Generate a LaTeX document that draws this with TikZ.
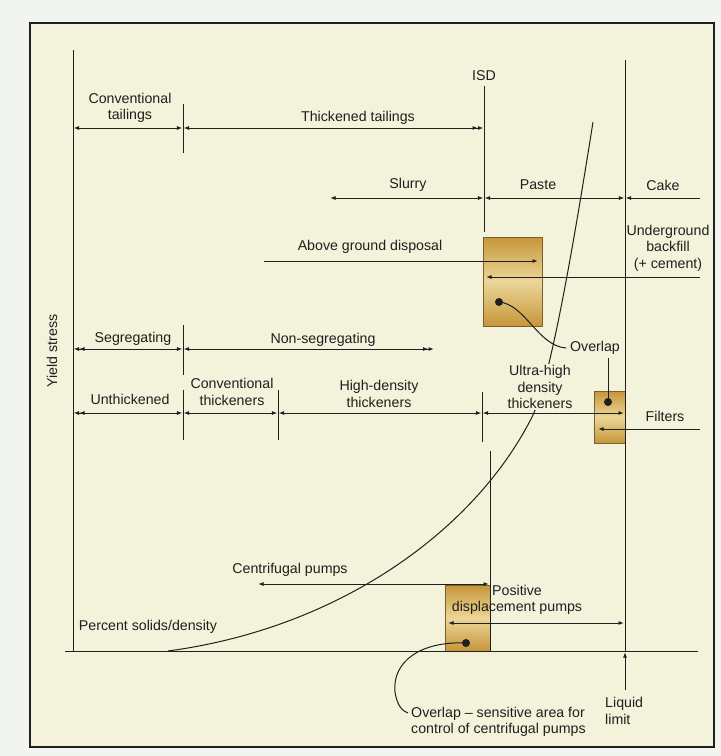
\documentclass[tikz,border=0pt]{standalone}
\usepackage{fontspec}
\setmainfont{Liberation Sans}
\usetikzlibrary{arrows.meta}
\definecolor{page}{HTML}{F2F4F0}
\definecolor{paper}{HTML}{F3F2DA}
\definecolor{ink}{HTML}{1F1F1F}
\definecolor{goldD}{HTML}{C6963A}
\definecolor{goldL}{HTML}{ECD698}
\definecolor{goldE}{HTML}{7A5F28}

\begin{document}
\begin{tikzpicture}[x=1pt,y=-1pt,
  >={Latex[length=5.5pt,width=4pt]},
  ln/.style={draw=ink,line width=1pt},
  lbl/.style={font=\fontsize{14.2}{16.5}\selectfont,text=ink,inner sep=0pt,align=center},
  lblL/.style={lbl,align=left},
  goldbox/.style={draw=goldE,line width=0.6pt,top color=goldD,bottom color=goldD,middle color=goldL},
  dot/.style={circle,fill=ink,inner sep=0pt,minimum size=8pt},
]
% page and framed panel
\useasboundingbox (0,0) rectangle (721,756);
\fill[page] (0,0) rectangle (721,756);
\draw[line width=2pt,draw=ink,fill=paper] (30,23) rectangle (714,747);

% overlap zones
\shade[goldbox] (483,237) rectangle (542,326);
\shade[goldbox] (594,391) rectangle (625,443);
\shade[goldbox] (445,585) rectangle (490,651);

% axes
\coordinate (yTop) at (73,50);
\coordinate (origin) at (73,651);
\coordinate (xL) at (65,651);
\coordinate (xR) at (698,651);
\draw[ln] (yTop) -- (origin);
\draw[ln] (xL) -- (xR);

% boundary lines
\coordinate (llTop) at (625,60);
\coordinate (llBot) at (625,651);
\draw[ln] (llTop) -- (llBot);
\coordinate (isdTop) at (484,86);
\coordinate (isdBot) at (484,232);
\draw[ln] (isdTop) -- (isdBot);
\coordinate (pdTop) at (490,451);
\coordinate (pdBot) at (490,651);
\draw[ln] (pdTop) -- (pdBot);
\coordinate (d1a) at (183,104); \coordinate (d1b) at (183,153);
\coordinate (d2a) at (183,325); \coordinate (d2b) at (183,375);
\coordinate (d3a) at (183,390); \coordinate (d3b) at (183,440);
\coordinate (d4a) at (278,390); \coordinate (d4b) at (278,440);
\coordinate (d5a) at (482,392); \coordinate (d5b) at (482,442);
\draw[ln] (d1a) -- (d1b);
\draw[ln] (d2a) -- (d2b);
\draw[ln] (d3a) -- (d3b);
\draw[ln] (d4a) -- (d4b);
\draw[ln] (d5a) -- (d5b);

% yield stress curve
\coordinate (cStart) at (168,651);
\coordinate (cMid) at (532,417);
\coordinate (cEnd) at (593,122);
\draw[ln] (cStart) .. controls (340,628) and (475,530) .. (cMid)
          .. controls (548,385) and (568,280) .. (cEnd);

% tailings classes
\coordinate (r1a) at (73.5,128); \coordinate (r1b) at (182.4,128);
\coordinate (r1c) at (183.6,128); \coordinate (r1d) at (483.5,128);
\draw[ln,<->] (r1a) -- (r1b);
\draw[ln,<->>] (r1c) -- (r1d);

% slurry / paste / cake
\coordinate (r2a) at (330,198); \coordinate (r2b) at (483.4,198);
\coordinate (r2c) at (484.6,198); \coordinate (r2d) at (624.4,198);
\coordinate (r2e) at (625.6,198); \coordinate (r2f) at (700,198);
\draw[ln,<->] (r2a) -- (r2b);
\draw[ln,<->] (r2c) -- (r2d);
\draw[ln,<-] (r2e) -- (r2f);

% disposal
\coordinate (r3a) at (264,261); \coordinate (r3b) at (538,261);
\coordinate (r3c) at (700,277); \coordinate (r3d) at (486,277);
\draw[ln,->] (r3a) -- (r3b);
\draw[ln,->] (r3c) -- (r3d);

% segregation
\coordinate (r4a) at (73.5,349); \coordinate (r4b) at (182.4,349);
\coordinate (r4c) at (183.6,349); \coordinate (r4d) at (434,349);
\draw[ln,<<->] (r4a) -- (r4b);
\draw[ln,<->>] (r4c) -- (r4d);

% thickeners
\coordinate (r5a) at (73.5,413); \coordinate (r5b) at (182.4,413);
\coordinate (r5c) at (183.6,413); \coordinate (r5d) at (277.4,413);
\coordinate (r5e) at (278.6,413); \coordinate (r5f) at (481.4,413);
\coordinate (r5g) at (482.6,413); \coordinate (r5h) at (624,413);
\draw[ln,<<->] (r5a) -- (r5b);
\draw[ln,<->] (r5c) -- (r5d);
\draw[ln,<->] (r5e) -- (r5f);
\draw[ln,<->] (r5g) -- (r5h);
\coordinate (r5i) at (700,429); \coordinate (r5j) at (598,429);
\draw[ln,->] (r5i) -- (r5j);

% pumps
\coordinate (r6a) at (258,584); \coordinate (r6b) at (489,584);
\coordinate (r6c) at (448,623); \coordinate (r6d) at (624,623);
\draw[ln,<->] (r6a) -- (r6b);
\draw[ln,<->] (r6c) -- (r6d);

% liquid limit pointer
\coordinate (llArrow) at (625,690);
\coordinate (llHit) at (625,652);
\draw[ln,->] (llArrow) -- (llHit);

% labels
\node[lbl] (convTail) at (130,108) {Conventional\\tailings};
\node[lbl] (thickTail) at (358,118) {Thickened tailings};
\node[lbl] (isd) at (484,76) {ISD};
\node[lbl] (slurry) at (408,185) {Slurry};
\node[lbl] (paste) at (538,185) {Paste};
\node[lbl] (cake) at (663,185) {Cake};
\node[lbl] (above) at (370,247) {Above ground disposal};
\node[lbl] (under) at (668,248) {Underground\\backfill\\(+ cement)};
\node[lbl] (overlap1) at (595,348) {Overlap};
\node[lbl] (segreg) at (133,339) {Segregating};
\node[lbl] (nonseg) at (323,340) {Non-segregating};
\node[lbl] (unthick) at (130,399) {Unthickened};
\node[lbl] (convThick) at (232,392) {Conventional\\thickeners};
\node[lbl] (hdThick) at (379,394) {High-density\\thickeners};
\node[lbl,fill=paper,inner sep=1pt] (uhdThick) at (540,387) {Ultra-high\\density\\thickeners};
\node[lbl] (filters) at (665,416) {Filters};
\node[lbl,rotate=90] (yield) at (52,351) {Yield stress};
\node[lbl] (centrif) at (290,570) {Centrifugal pumps};
\node[lbl] (posDisp) at (517,600) {Positive\\displacement pumps};
\node[lbl] (percent) at (148,627) {Percent solids/density};
\node[lblL,anchor=west] (liquid) at (605,711) {Liquid\\limit};
\node[lblL,anchor=west] (overlap2) at (411,722) {Overlap -- sensitive area for\\control of centrifugal pumps};

% overlap markers and leaders
\node[dot] (dot1) at (499,302) {};
\node[dot] (dot2) at (608,402) {};
\node[dot] (dot3) at (466,643) {};
\coordinate (lead1) at (566,348);
\draw[ln] (dot1.center) .. controls (525,304) and (538,346) .. (lead1);
\coordinate (lead2) at (608,358);
\draw[ln] (lead2) -- (dot2.center);
\coordinate (lead3) at (395,692);
\coordinate (lead3end) at (408,713);
\draw[ln] (dot3.center) .. controls (420,641) and (392,662) .. (lead3) .. controls (397,705) and (402,711) .. (lead3end);
\end{tikzpicture}
\end{document}
